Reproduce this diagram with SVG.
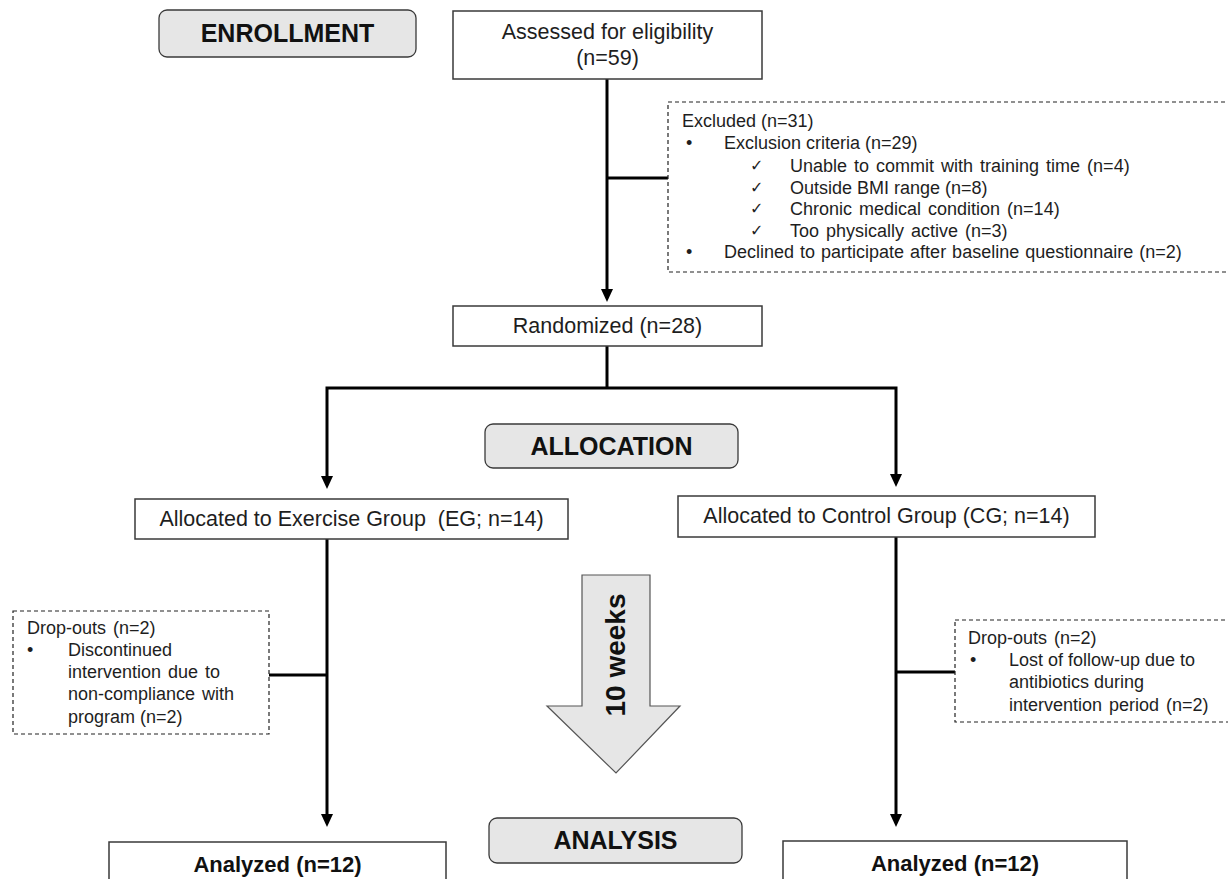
<svg xmlns="http://www.w3.org/2000/svg" width="1228" height="879" viewBox="0 0 1228 879">
<defs>
<style>
.box{fill:#fff;stroke:#3a3a3a;stroke-width:1.5}
.stage{fill:#e6e6e6;stroke:#3a3a3a;stroke-width:1.3}
.dash{fill:#fff;stroke:#222;stroke-width:1.2;stroke-dasharray:4 3}
.t{font-family:"Liberation Sans",Arial,sans-serif;font-size:21.5px;fill:#1e1e1e;text-anchor:middle}
.h{font-family:"Liberation Sans",Arial,sans-serif;font-size:25px;font-weight:bold;fill:#111;text-anchor:middle}
.b{font-family:"Liberation Sans",Arial,sans-serif;font-size:22px;font-weight:bold;fill:#111;text-anchor:middle}
.s{font-family:"Liberation Sans",Arial,sans-serif;font-size:18px;fill:#1e1e1e}
.ck{font-family:"DejaVu Sans",sans-serif;font-size:16px;fill:#1e1e1e}
.c{fill:none;stroke:#000;stroke-width:3}
</style>
<marker id="arr" markerUnits="userSpaceOnUse" markerWidth="13" markerHeight="12" refX="2" refY="6" orient="auto-start-reverse">
<path d="M0,0 L13,6 L0,12 z" fill="#000"/>
</marker>
</defs>
<rect width="1228" height="879" fill="#fff"/>

<g id="connectors">
<path class="c" d="M607,79 V291" marker-end="url(#arr)"/>
<path class="c" d="M607,178 H668"/>
<path class="c" d="M607,346 V388"/>
<path class="c" d="M327,478 V388 H896 V476" marker-start="url(#arr)" marker-end="url(#arr)"/>
<path class="c" d="M327,539 V816" marker-end="url(#arr)"/>
<path class="c" d="M269,675 H327"/>
<path class="c" d="M896,537 V816" marker-end="url(#arr)"/>
<path class="c" d="M896,672 H955"/>
</g>

<g id="enrollment">
<rect class="stage" x="159" y="10" width="257" height="47" rx="8"/>
<text class="h" x="287.5" y="42">ENROLLMENT</text>
</g>

<g id="assessed">
<rect class="box" x="453" y="11" width="309" height="68"/>
<text class="t" x="607.5" y="39">Assessed for eligibility</text>
<text class="t" x="607.5" y="65">(n=59)</text>
</g>

<g id="excluded">
<rect class="dash" x="668" y="102" width="600" height="170"/>
<text class="s" x="682" y="127">Excluded (n=31)</text>
<text class="s" x="686" y="149">•</text>
<text class="s" x="724" y="149">Exclusion criteria (n=29)</text>
<text class="ck" x="750" y="171">✓</text>
<text class="s" x="790" y="172" word-spacing="2">Unable to commit with training time (n=4)</text>
<text class="ck" x="750" y="193">✓</text>
<text class="s" x="790" y="194">Outside BMI range (n=8)</text>
<text class="ck" x="750" y="214">✓</text>
<text class="s" x="790" y="215" word-spacing="2">Chronic medical condition (n=14)</text>
<text class="ck" x="750" y="236">✓</text>
<text class="s" x="790" y="237" word-spacing="2">Too physically active (n=3)</text>
<text class="s" x="686" y="258">•</text>
<text class="s" x="724" y="258" word-spacing="1">Declined to participate after baseline questionnaire (n=2)</text>
</g>

<g id="randomized">
<rect class="box" x="453" y="306" width="309" height="40"/>
<text class="t" x="607.5" y="333">Randomized (n=28)</text>
</g>

<g id="allocation">
<rect class="stage" x="485" y="424" width="253" height="44" rx="8"/>
<text class="h" x="611.5" y="455">ALLOCATION</text>
</g>

<g id="eg">
<rect class="box" x="135" y="499" width="433" height="40"/>
<text class="t" x="351.5" y="526" xml:space="preserve">Allocated to Exercise Group  (EG; n=14)</text>
</g>

<g id="cg">
<rect class="box" x="678" y="496" width="417" height="41"/>
<text class="t" x="886.5" y="523">Allocated to Control Group (CG; n=14)</text>
</g>

<g id="dropouts-eg">
<rect class="dash" x="13" y="611" width="256" height="123"/>
<text class="s" x="27" y="634" word-spacing="2">Drop-outs (n=2)</text>
<text class="s" x="27" y="656">•</text>
<text class="s" x="68" y="656">Discontinued</text>
<text class="s" x="68" y="678" word-spacing="2">intervention due to</text>
<text class="s" x="68" y="700" word-spacing="2">non-compliance with</text>
<text class="s" x="68" y="723">program (n=2)</text>
</g>

<g id="dropouts-cg">
<rect class="dash" x="955" y="620" width="300" height="102"/>
<text class="s" x="968" y="644" word-spacing="2">Drop-outs (n=2)</text>
<text class="s" x="970" y="666">•</text>
<text class="s" x="1009" y="666">Lost of follow-up due to</text>
<text class="s" x="1009" y="688">antibiotics during</text>
<text class="s" x="1009" y="711" word-spacing="2">intervention period (n=2)</text>
</g>

<g id="weeks">
<polygon points="582,575 650,575 650,706 680,706 616,773 547,706 582,706" fill="#e6e6e6" stroke="#555" stroke-width="1.2"/>
<text class="h" transform="translate(625,655) rotate(-90)" x="0" y="0" style="font-size:28px">10 weeks</text>
</g>

<g id="analysis">
<rect class="stage" x="489" y="818" width="253" height="45" rx="8"/>
<text class="h" x="615.5" y="849">ANALYSIS</text>
</g>

<g id="analyzed-eg">
<rect class="box" x="109" y="842" width="337" height="60"/>
<text class="b" x="277.5" y="872">Analyzed (n=12)</text>
</g>

<g id="analyzed-cg">
<rect class="box" x="783" y="841" width="344" height="60"/>
<text class="b" x="955" y="871">Analyzed (n=12)</text>
</g>
</svg>
